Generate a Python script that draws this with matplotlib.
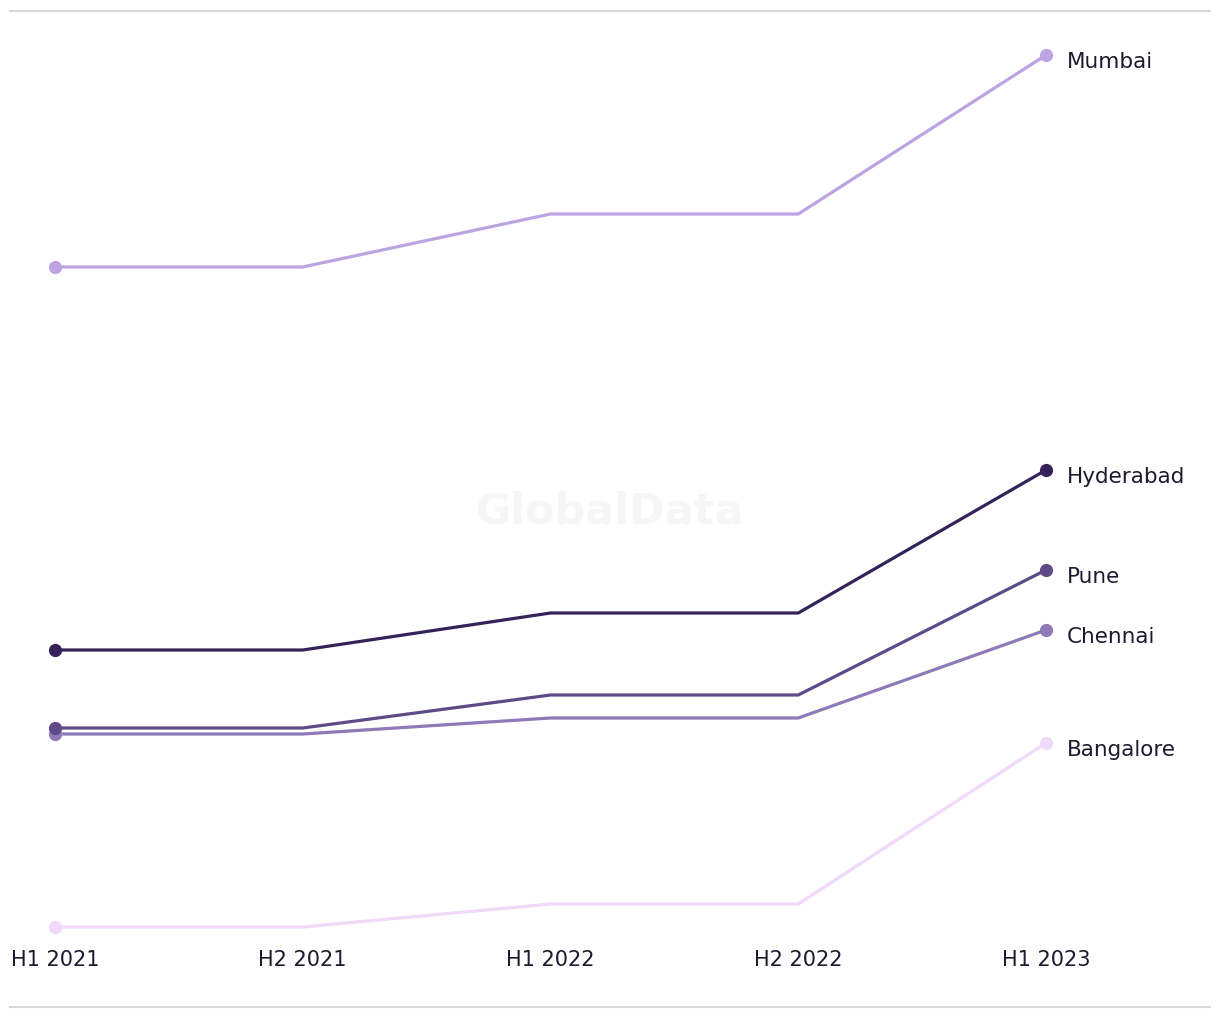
import matplotlib
matplotlib.use("Agg")
import matplotlib.pyplot as plt
import matplotlib.transforms as mtransforms

periods = ["H1 2021", "H2 2021", "H1 2022", "H2 2022", "H1 2023"]
cities = ["Mumbai", "Hyderabad", "Pune", "Chennai", "Bangalore"]
mumbai = [73.2, 73.2, 78.5, 78.5, 94.4]
hyderabad = [34.9, 34.9, 38.6, 38.6, 52.9]
pune = [27.1, 27.1, 30.4, 30.4, 42.9]
chennai = [26.5, 26.5, 28.1, 28.1, 36.9]
bangalore = [7.2, 7.2, 9.5, 9.5, 25.6]
series = [mumbai, hyderabad, pune, chennai, bangalore]
colors = ["#bca3e2", "#35225a", "#5e4a86", "#8f79b7", "#f0d9fb"]

plt.rcParams['font.family'] = ['DejaVu Sans']

fig = plt.figure(figsize=(12.2, 10.2), dpi=100)
ax = fig.add_axes([10/1220, 12/1020, 1200/1220, 996/1020])
x = list(range(len(periods)))
order = [4, 0, 3, 2, 1]
for i in order:
    ax.plot(x, series[i], color=colors[i], lw=2.3, solid_capstyle='round', zorder=2)
    ax.plot(x[0], series[i][0], 'o', color=colors[i], ms=8.5, zorder=3)
    ax.plot(x[-1], series[i][-1], 'o', color=colors[i], ms=8.5, zorder=3)
    ax.annotate(cities[i], (x[-1], series[i][-1]), xytext=(15, -4), textcoords='offset points',
                va='center', ha='left', fontsize=15.5, color='#1c1a2e', annotation_clip=False)

ax.set_xlim(-(55-10)/247.75, 4 + (1210-1046)/247.75)
ax.set_ylim(-0.8, 98.8)
ax.set_xticks([]); ax.set_yticks([])
for s in ['left', 'right']:
    ax.spines[s].set_visible(False)
for s in ['top', 'bottom']:
    ax.spines[s].set_color('#d9d9d9')
    ax.spines[s].set_linewidth(1.5)

trans = mtransforms.blended_transform_factory(ax.transData, ax.transAxes)
for xi, lab in zip(x, periods):
    ax.text(xi, (1008-960)/996, lab, transform=trans, ha='center', va='center',
            fontsize=15, color='#1c1a2e')

ax.text(0.5, (1008-512)/996, "GlobalData", transform=ax.transAxes, ha='center', va='center',
        fontsize=31, fontweight='bold', color='#f6f6f6', zorder=0)

fig.savefig("out.png", dpi=100, facecolor='white')
